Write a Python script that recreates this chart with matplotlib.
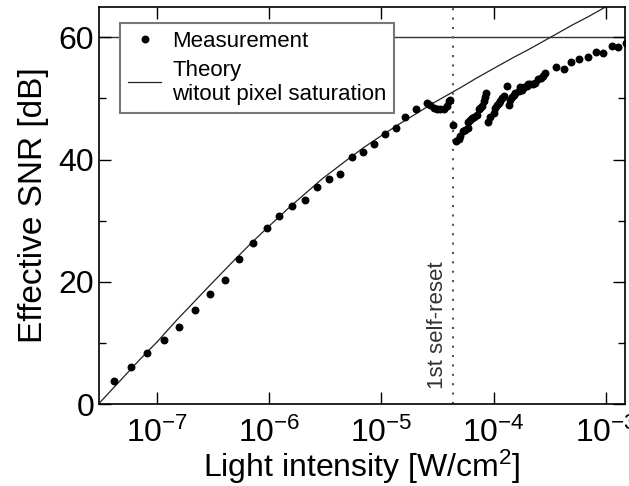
import matplotlib
matplotlib.use("Agg")
import matplotlib.pyplot as plt
from matplotlib.ticker import FixedLocator, NullLocator

plt.rcParams['font.family'] = ['Liberation Sans', 'DejaVu Sans']
plt.rcParams['mathtext.fontset'] = 'custom'
plt.rcParams['mathtext.rm'] = 'Liberation Sans'
plt.rcParams['mathtext.it'] = 'Liberation Sans:italic'

# measured effective SNR, below the first self-reset
meas_x_low = [4.16e-8, 5.87e-8, 8.24e-8, 1.162e-7, 1.59e-7, 2.21e-7, 3.00e-7, 4.06e-7,
              5.45e-7, 7.22e-7, 9.56e-7, 1.238e-6, 1.606e-6, 2.08e-6, 2.67e-6, 3.41e-6,
              4.30e-6, 5.43e-6, 6.80e-6, 8.52e-6, 1.077e-5, 1.343e-5, 1.633e-5, 2.03e-5,
              2.55e-5, 2.73e-5, 2.92e-5, 3.13e-5, 3.35e-5, 3.58e-5, 3.84e-5, 3.97e-5, 4.11e-5]
meas_y_low = [3.7, 6.0, 8.3, 10.4, 12.6, 15.4, 18.0, 20.3,
              23.7, 26.3, 28.8, 30.7, 32.4, 33.3, 35.5, 36.8,
              37.7, 40.4, 41.2, 42.5, 44.2, 45.2, 46.9, 48.2,
              49.3, 49.0, 48.4, 48.2, 48.2, 48.3, 48.7, 49.5, 49.8]

# measured effective SNR, above the first self-reset
meas_x_high = [4.35e-5, 4.60e-5, 4.88e-5, 5.05e-5, 5.34e-5, 5.60e-5, 5.87e-5, 5.87e-5,
               6.20e-5, 6.42e-5, 6.73e-5, 7.11e-5, 7.35e-5, 7.61e-5, 7.88e-5, 8.15e-5,
               8.43e-5, 8.61e-5, 8.84e-5, 9.35e-5, 1.00e-4, 1.036e-4, 1.079e-4, 1.108e-4,
               1.147e-4, 1.188e-4, 1.228e-4, 1.316e-4, 1.36e-4, 1.408e-4, 1.459e-4, 1.508e-4,
               1.561e-4, 1.670e-4, 1.730e-4, 1.791e-4, 1.877e-4, 1.984e-4, 2.04e-4, 2.12e-4,
               2.26e-4, 2.35e-4, 2.50e-4, 2.61e-4, 2.77e-4, 2.89e-4, 3.55e-4, 4.21e-4,
               4.90e-4, 5.80e-4, 6.88e-4, 8.06e-4, 9.44e-4, 1.119e-3, 1.284e-3, 1.492e-3]
meas_y_high = [45.7, 43.0, 43.4, 43.9, 44.6, 44.9, 45.2, 46.2,
               46.5, 46.8, 47.0, 47.3, 48.2, 48.5, 48.7, 49.5,
               50.3, 50.9, 46.2, 47.0, 47.6, 48.4, 49.0, 49.3,
               49.6, 50.1, 50.4, 52.0, 49.0, 49.8, 50.3, 50.6,
               50.9, 51.2, 51.8, 51.4, 51.8, 52.0, 52.3, 52.3,
               52.4, 52.5, 53.1, 53.3, 53.7, 54.2, 55.1, 54.8,
               55.9, 56.5, 56.7, 57.6, 57.5, 58.6, 58.4, 59.1]

# theory curve without pixel saturation
theory_x = [3.03e-8, 5e-8, 7e-8, 1e-7, 1.5e-7, 2e-7, 3e-7, 5e-7, 7e-7, 1e-6,
            1.5e-6, 2e-6, 3e-6, 5e-6, 7e-6, 1e-5, 1.5e-5, 2e-5, 3e-5, 5e-5,
            7e-5, 1e-4, 1.5e-4, 2e-4, 3e-4, 5e-4, 7e-4, 1e-3, 1.5e-3]
theory_y = [0.0, 4.3, 7.2, 10.1, 13.7, 16.1, 19.5, 23.7, 26.4, 29.1,
            32.1, 34.1, 36.9, 40.0, 42.0, 43.9, 46.0, 47.4, 49.4, 51.7,
            53.3, 54.9, 56.7, 57.9, 59.7, 62.0, 63.4, 65.0, 66.8]

reset_x = 4.35e-5
sat_level = 60

fig = plt.figure(figsize=(6.29, 4.86), dpi=100)
ax = fig.add_axes([0.1566, 0.1687, 0.8378, 0.8175])

ax.axhline(sat_level, color='#333333', lw=1.0, zorder=1)
ax.axvline(reset_x, color='#555555', lw=1.5, linestyle=(0, (1, 3.5)), zorder=1)
ax.plot(meas_x_low + meas_x_high, meas_y_low + meas_y_high, 'o', color='black',
        markersize=5.7, markeredgewidth=0, label='Measurement', zorder=3)
ax.plot(theory_x, theory_y, '-', color='#222222', lw=0.9,
        label='Theory\nwitout pixel saturation', zorder=2)

ax.text(3.17e-5, 2.5, '1st self-reset', rotation=90, ha='center', va='bottom',
        fontsize=16, color='#333333')

ax.set_xscale('log')
ax.set_xlim(3.03e-8, 1.49e-3)
ax.set_ylim(0, 65)
ax.xaxis.set_minor_locator(NullLocator())
ax.yaxis.set_major_locator(FixedLocator([0, 20, 40, 60]))
ax.yaxis.set_minor_locator(FixedLocator([10, 30, 50]))

ax.tick_params(which='both', direction='in', top=True, right=True, width=1.0)
ax.tick_params(which='major', length=8.5)
ax.tick_params(which='minor', length=5)
ax.tick_params(axis='x', labelsize=23, pad=10)
ax.tick_params(axis='y', labelsize=23, pad=3)
for s in ax.spines.values():
    s.set_linewidth(1.2)

ax.set_xlabel('Light intensity [W/cm$^2$]', fontsize=23, labelpad=-1)
ax.set_ylabel('Effective SNR [dB]', fontsize=24, labelpad=7)

leg = ax.legend(loc='upper left', bbox_to_anchor=(0.041, 0.959), borderaxespad=0,
                fontsize=16, frameon=True, fancybox=False, handlelength=1.5,
                handletextpad=0.5, labelspacing=0.35, borderpad=0.35)
leg.get_frame().set_edgecolor('#777777')
leg.get_frame().set_linewidth(1.5)
leg.get_frame().set_alpha(1)

fig.savefig('out.png', dpi=100)
